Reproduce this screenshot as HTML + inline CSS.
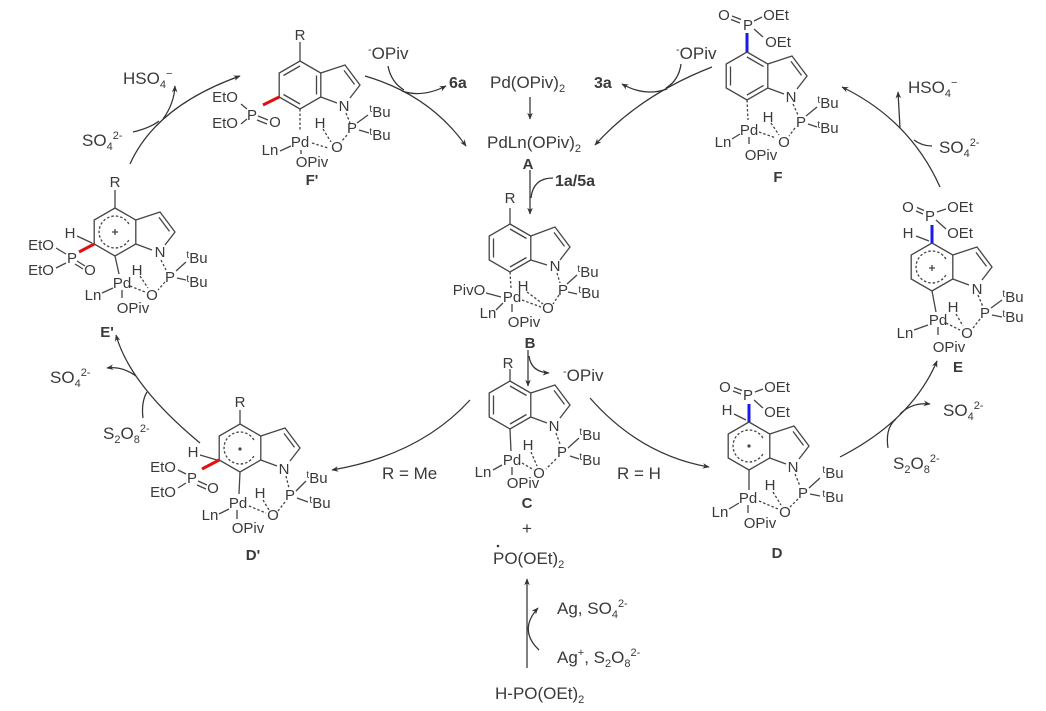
<!DOCTYPE html>
<html><head><meta charset="utf-8">
<style>
html,body{margin:0;padding:0;background:#fff;}
svg{display:block;}
.bd{stroke:#454545;stroke-width:1.3;fill:none;}
.ds{stroke:#454545;stroke-width:1.3;fill:none;stroke-dasharray:2.5 2;}
.ar{stroke:#333;stroke-width:1.25;fill:none;}
text{font-family:"Liberation Sans",Arial,sans-serif;fill:#3a3a3a;}
.a{font-size:15px;text-anchor:middle;}
.r{font-size:17px;}
.l{font-size:15px;font-weight:bold;text-anchor:middle;}
.lb{font-size:16px;font-weight:bold;}
.s{font-size:11px;}
.red{stroke:#e01010;stroke-width:3;fill:none;}
.blu{stroke:#1a1aee;stroke-width:3;fill:none;}
</style></head>
<body>
<svg width="1046" height="711" viewBox="0 0 1046 711" xmlns="http://www.w3.org/2000/svg">
<defs>
<marker id="ah" viewBox="0 0 10 10" refX="9" refY="5" markerWidth="7" markerHeight="7" orient="auto" markerUnits="userSpaceOnUse">
<path d="M0,1 L10,5 L0,9 L3,5z" fill="#333"/>
</marker>
</defs>

<!-- ================= ARROWS ================= -->
<!-- E' -> F' -->
<path class="ar" d="M130,164 Q156,106 240,76" marker-end="url(#ah)"/>
<path class="ar" d="M163,119 Q174,104 175,86" marker-end="url(#ah)"/>
<path class="ar" d="M133,132 Q150,128 159,121"/>
<!-- F' -> A -->
<path class="ar" d="M365,76 Q430,95 466,146" marker-end="url(#ah)"/>
<path class="ar" d="M388,66 Q391,82 404,90"/>
<path class="ar" d="M402,91 Q422,98 446,86" marker-end="url(#ah)"/>
<!-- F -> A -->
<path class="ar" d="M712,67 Q640,95 595,145" marker-end="url(#ah)"/>
<path class="ar" d="M681,64 Q679,80 666,88"/>
<path class="ar" d="M667,89 Q645,97 622,84" marker-end="url(#ah)"/>
<!-- Pd(OPiv)2 -> A -->
<path class="ar" d="M530,97 L530,119" marker-end="url(#ah)"/>
<!-- A -> B -->
<path class="ar" d="M530,170 L530,214" marker-end="url(#ah)"/>
<path class="ar" d="M553,178 Q533,178 531,198"/>
<!-- B -> C -->
<path class="ar" d="M528,350 L528,386" marker-end="url(#ah)"/>
<path class="ar" d="M529,356 Q531,372 549,373" marker-end="url(#ah)"/>
<!-- C -> D' -->
<path class="ar" d="M470,400 Q420,455 332,470" marker-end="url(#ah)"/>
<!-- C -> D -->
<path class="ar" d="M590,398 Q640,455 709,467" marker-end="url(#ah)"/>
<!-- D -> E -->
<path class="ar" d="M840,457 Q912,420 937,361" marker-end="url(#ah)"/>
<path class="ar" d="M900,414 Q912,402 930,404" marker-end="url(#ah)"/>
<path class="ar" d="M888,448 Q885,428 896,419"/>
<!-- E -> F -->
<path class="ar" d="M940,187 Q910,120 842,87" marker-end="url(#ah)"/>
<path class="ar" d="M900,128 Q899,110 898,92" marker-end="url(#ah)"/>
<path class="ar" d="M932,146 Q922,146 914,140"/>
<!-- D' -> E' -->
<path class="ar" d="M200,443 Q130,385 116,335" marker-end="url(#ah)"/>
<path class="ar" d="M136,376 Q122,366 107,368" marker-end="url(#ah)"/>
<path class="ar" d="M143,418 Q141,402 147,392"/>
<!-- H-PO(OEt)2 -> radical -->
<path class="ar" d="M527,668 L527,579" marker-end="url(#ah)"/>
<path class="ar" d="M539,650 Q518,630 538,608" marker-end="url(#ah)"/>

<!-- ================= REAGENT TEXT ================= -->
<text class="r" x="123" y="84">HSO<tspan class="s" dy="4">4</tspan><tspan class="s" dy="-11">−</tspan></text>
<text class="r" x="82" y="146">SO<tspan class="s" dy="4">4</tspan><tspan class="s" dy="-11">2-</tspan></text>
<text class="r" x="368" y="59"><tspan class="s" dy="-6">-</tspan><tspan dy="6">OPiv</tspan></text>
<text class="lb" x="449" y="88">6a</text>
<text class="r" x="490" y="88">Pd(OPiv)<tspan class="s" dy="4">2</tspan></text>
<text class="lb" x="594" y="88">3a</text>
<text class="r" x="676" y="59"><tspan class="s" dy="-6">-</tspan><tspan dy="6">OPiv</tspan></text>
<text class="r" x="487" y="148">PdLn(OPiv)<tspan class="s" dy="4">2</tspan></text>
<text class="l" x="528" y="169">A</text>
<text class="lb" x="555" y="186">1a/5a</text>
<text class="r" x="908" y="93">HSO<tspan class="s" dy="4">4</tspan><tspan class="s" dy="-11">−</tspan></text>
<text class="r" x="939" y="153">SO<tspan class="s" dy="4">4</tspan><tspan class="s" dy="-11">2-</tspan></text>
<text class="r" x="563" y="381"><tspan class="s" dy="-6">-</tspan><tspan dy="6">OPiv</tspan></text>
<text class="r" x="50" y="383">SO<tspan class="s" dy="4">4</tspan><tspan class="s" dy="-11">2-</tspan></text>
<text class="r" x="103" y="439">S<tspan class="s" dy="4">2</tspan><tspan dy="-4">O</tspan><tspan class="s" dy="4">8</tspan><tspan class="s" dy="-11">2-</tspan></text>
<text class="r" x="382" y="479">R = Me</text>
<text class="r" x="617" y="479">R = H</text>
<text class="r" x="943" y="416">SO<tspan class="s" dy="4">4</tspan><tspan class="s" dy="-11">2-</tspan></text>
<text class="r" x="893" y="469">S<tspan class="s" dy="4">2</tspan><tspan dy="-4">O</tspan><tspan class="s" dy="4">8</tspan><tspan class="s" dy="-11">2-</tspan></text>
<text class="r" x="527" y="534" text-anchor="middle">+</text>
<circle cx="498" cy="546" r="1.3" fill="#3a3a3a"/>
<text class="r" x="493" y="564">PO(OEt)<tspan class="s" dy="4">2</tspan></text>
<text class="r" x="557" y="614">Ag, SO<tspan class="s" dy="4">4</tspan><tspan class="s" dy="-11">2-</tspan></text>
<text class="r" x="557" y="663">Ag<tspan class="s" dy="-7">+</tspan><tspan dy="7">, S</tspan><tspan class="s" dy="4">2</tspan><tspan dy="-4">O</tspan><tspan class="s" dy="4">8</tspan><tspan class="s" dy="-11">2-</tspan></text>
<text class="r" x="495" y="699">H-PO(OEt)<tspan class="s" dy="4">2</tspan></text>

<!-- ================= F' ================= -->
<g transform="translate(300,85)">
<polygon class="bd" points="0,-24 20.8,-12 20.8,12 0,24 -20.8,12 -20.8,-12"/>
<path class="bd" d="M16.5,-9.5 L16.5,9.5 M0,19 L-16.5,9.5 M-16.5,-9.5 L0,-19"/>
<path class="bd" d="M20.8,-12 L45,-20 L60,0 L50,13 M20.8,12 L37,18 M44,-14.6 L54.5,-0.6"/>
<path class="bd" d="M0,-43 L0,-24"/>
<path class="red" d="M-20.8,12 L-37,20"/>
<path class="bd" d="M-59,19 L-53,24 M-59,39 L-53,34 M-42,31 L-32,35 M-43,35 L-33,39"/>
<path class="ds" d="M0,24 L0,46 M46,28 L50,38 M12,58 L28,63 M23,44 L31,57 M47,50 L41,57"/>
<path class="bd" d="M57,38 L68,30 M59,45 L69,48 M-20,66 L-9,61 M1,65 L1,69"/>
<text class="a" x="0" y="-45">R</text>
<text class="a" x="-48" y="35">P</text>
<text class="a" x="-75" y="17">EtO</text>
<text class="a" x="-75" y="43">EtO</text>
<text class="a" x="-25" y="42">O</text>
<text class="a" x="44" y="26">N</text>
<text class="a" x="52" y="48">P</text>
<text class="a" x="80" y="32"><tspan font-size="10" dy="-5">t</tspan><tspan dy="5">Bu</tspan></text>
<text class="a" x="80" y="55"><tspan font-size="10" dy="-5">t</tspan><tspan dy="5">Bu</tspan></text>
<text class="a" x="0" y="62">Pd</text>
<text class="a" x="20" y="43">H</text>
<text class="a" x="37" y="67">O</text>
<text class="a" x="-30" y="70">Ln</text>
<text class="a" x="12" y="82">OPiv</text>
<text class="l" x="12" y="100">F'</text>
</g>

<!-- ================= F ================= -->
<g transform="translate(747,76)">
<polygon class="bd" points="0,-24 20.8,-12 20.8,12 0,24 -20.8,12 -20.8,-12"/>
<path class="bd" d="M0,-19 L16.5,-9.5 M16.5,9.5 L0,19 M-16.5,9.5 L-16.5,-9.5"/>
<path class="bd" d="M20.8,-12 L45,-20 L60,0 L50,13 M20.8,12 L37,18 M44,-14.6 L54.5,-0.6"/>
<path class="blu" d="M0,-24 L0,-43"/>
<path class="bd" d="M-7,-53 L-16,-56.5 M-6,-56.5 L-15,-60 M7,-55 L15,-59 M7,-47 L16,-39"/>
<path class="ds" d="M0,24 L1,44 M46,28 L51,39 M12,56 L29,62 M24,47 L32,59 M48,52 L42,60"/>
<path class="bd" d="M59,40 L70,31 M61,48 L70,51 M-15,63 L-7,58 M2,61 L2,68"/>
<text class="a" x="1" y="-46">P</text>
<text class="a" x="-23" y="-56">O</text>
<text class="a" x="29" y="-56">OEt</text>
<text class="a" x="31" y="-29">OEt</text>
<text class="a" x="44" y="26">N</text>
<text class="a" x="54" y="51">P</text>
<text class="a" x="81" y="32"><tspan font-size="10" dy="-5">t</tspan><tspan dy="5">Bu</tspan></text>
<text class="a" x="81" y="57"><tspan font-size="10" dy="-5">t</tspan><tspan dy="5">Bu</tspan></text>
<text class="a" x="2" y="59">Pd</text>
<text class="a" x="21" y="46">H</text>
<text class="a" x="37" y="71">O</text>
<text class="a" x="-24" y="71">Ln</text>
<text class="a" x="14" y="84">OPiv</text>
<text class="l" x="31" y="106">F</text>
</g>

<!-- ================= B ================= -->
<g transform="translate(510,248)">
<polygon class="bd" points="0,-24 20.8,-12 20.8,12 0,24 -20.8,12 -20.8,-12"/>
<path class="bd" d="M0,-19 L16.5,-9.5 M16.5,9.5 L0,19 M-16.5,9.5 L-16.5,-9.5"/>
<path class="bd" d="M20.8,-12 L45,-21 L60,-1 L50,12 M20.8,12 L37,17 M44,-15.6 L54.5,-1.6"/>
<path class="bd" d="M0,-40 L0,-24"/>
<path class="ds" d="M0,24 L1,40 M47,25 L50,35 M12,52 L31,59 M17,44 L33,56 M49,47 L43,56"/>
<path class="bd" d="M57,36 L67,27 M58,44 L67,46 M-24,45 L-9,49 M-14,62 L-7,55 M2,56 L2,64"/>
<text class="a" x="0" y="-45">R</text>
<text class="a" x="45" y="23">N</text>
<text class="a" x="53" y="47">P</text>
<text class="a" x="78" y="29"><tspan font-size="10" dy="-5">t</tspan><tspan dy="5">Bu</tspan></text>
<text class="a" x="79" y="50"><tspan font-size="10" dy="-5">t</tspan><tspan dy="5">Bu</tspan></text>
<text class="a" x="2" y="54">Pd</text>
<text class="a" x="13" y="43">H</text>
<text class="a" x="38" y="65">O</text>
<text class="a" x="-41" y="47">PivO</text>
<text class="a" x="-22" y="70">Ln</text>
<text class="a" x="14" y="79">OPiv</text>
<text class="l" x="20" y="100">B</text>
</g>

<!-- ================= C ================= -->
<g transform="translate(510,405)">
<polygon class="bd" points="0,-24 20.8,-12 20.8,12 0,24 -20.8,12 -20.8,-12"/>
<path class="bd" d="M0,-19 L16.5,-9.5 M16.5,9.5 L0,19 M-16.5,9.5 L-16.5,-9.5"/>
<path class="bd" d="M20.8,-12 L45,-20 L60,0 L50,13 M20.8,12 L37,18 M44,-14.6 L54.5,-0.6"/>
<path class="bd" d="M0,-36 L0,-24 M0,24 L1,46"/>
<path class="ds" d="M46,28 L50,39 M12,58 L24,65 M21,47 L27,61 M46,54 L36,64"/>
<path class="bd" d="M58,43 L69,33 M60,51 L69,54 M-17,65 L-8,60 M2,62 L2,70"/>
<text class="a" x="-2" y="-37">R</text>
<text class="a" x="44" y="26">N</text>
<text class="a" x="52" y="52">P</text>
<text class="a" x="80" y="35"><tspan font-size="10" dy="-5">t</tspan><tspan dy="5">Bu</tspan></text>
<text class="a" x="80" y="60"><tspan font-size="10" dy="-5">t</tspan><tspan dy="5">Bu</tspan></text>
<text class="a" x="2" y="60">Pd</text>
<text class="a" x="18" y="45">H</text>
<text class="a" x="29" y="73">O</text>
<text class="a" x="-27" y="72">Ln</text>
<text class="a" x="13" y="83">OPiv</text>
<text class="l" x="17" y="103">C</text>
</g>

<!-- ================= D ================= -->
<g transform="translate(749,446)">
<polygon class="bd" points="0,-24 20.8,-12 20.8,12 0,24 -20.8,12 -20.8,-12"/>
<path class="ds" d="M13.9,-8 A16,16 0 1 0 13.9,8"/>
<circle cx="0" cy="0" r="1.6" fill="#444"/>
<path class="bd" d="M20.8,-12 L45,-20 L60,0 L50,13 M20.8,12 L37,18 M44,-14.6 L54.5,-0.6"/>
<path class="blu" d="M0,-24 L0,-42"/>
<path class="bd" d="M-15,-32 L-3,-26 M-8,-52 L-16,-55 M-7,-55.5 L-15,-58.5 M6,-54 L14,-57 M5,-46 L14,-38 M0,24 L0,44"/>
<path class="ds" d="M46,28 L51,40 M10,55 L29,63 M24,46 L32,59 M49,53 L41,61"/>
<path class="bd" d="M60,42 L71,32 M61,48 L71,50 M-20,63 L-10,57 M-1,59 L-1,67"/>
<text class="a" x="-1" y="-46">P</text>
<text class="a" x="-24" y="-54">O</text>
<text class="a" x="28" y="-54">OEt</text>
<text class="a" x="28" y="-29">OEt</text>
<text class="a" x="-22" y="-31">H</text>
<text class="a" x="44" y="26">N</text>
<text class="a" x="54" y="52">P</text>
<text class="a" x="84" y="32"><tspan font-size="10" dy="-5">t</tspan><tspan dy="5">Bu</tspan></text>
<text class="a" x="84" y="56"><tspan font-size="10" dy="-5">t</tspan><tspan dy="5">Bu</tspan></text>
<text class="a" x="-1" y="57">Pd</text>
<text class="a" x="21" y="44">H</text>
<text class="a" x="36" y="71">O</text>
<text class="a" x="-29" y="71">Ln</text>
<text class="a" x="11" y="82">OPiv</text>
<text class="l" x="28" y="112">D</text>
</g>

<!-- ================= E ================= -->
<g transform="translate(932,267)">
<polygon class="bd" points="0,-24 20.8,-12 20.8,12 0,24 -20.8,12 -20.8,-12"/>
<path class="ds" d="M13.9,-8 A16,16 0 1 0 13.9,8"/>
<path class="bd" d="M-3,1 L3,1 M0,-2 L0,4" stroke-width="1"/>
<path class="bd" d="M20.8,-12 L45,-20 L60,0 L50,13 M20.8,12 L37,18 M44,-14.6 L54.5,-0.6"/>
<path class="blu" d="M0,-24 L0,-42"/>
<path class="bd" d="M-16,-31 L-3,-26 M-9,-53 L-16,-56 M-8,-56.5 L-15,-59.5 M5,-55 L14,-58 M4,-47 L14,-38 M0,24 L4,45"/>
<path class="ds" d="M46,28 L51,40 M14,56 L28,63 M24,47 L31,59 M48,52 L41,61"/>
<path class="bd" d="M59,41 L70,33 M60,48 L70,50 M-18,63 L-4,58 M6,60 L6,68"/>
<text class="a" x="-2" y="-46">P</text>
<text class="a" x="-24" y="-55">O</text>
<text class="a" x="28" y="-55">OEt</text>
<text class="a" x="28" y="-29">OEt</text>
<text class="a" x="-24" y="-29">H</text>
<text class="a" x="45" y="27">N</text>
<text class="a" x="53" y="51">P</text>
<text class="a" x="81" y="35"><tspan font-size="10" dy="-5">t</tspan><tspan dy="5">Bu</tspan></text>
<text class="a" x="81" y="55"><tspan font-size="10" dy="-5">t</tspan><tspan dy="5">Bu</tspan></text>
<text class="a" x="6" y="58">Pd</text>
<text class="a" x="21" y="45">H</text>
<text class="a" x="35" y="71">O</text>
<text class="a" x="-27" y="71">Ln</text>
<text class="a" x="17" y="85">OPiv</text>
<text class="l" x="26" y="105">E</text>
</g>

<!-- ================= D' ================= -->
<g transform="translate(240,448)">
<polygon class="bd" points="0,-24 20.8,-12 20.8,12 0,24 -20.8,12 -20.8,-12"/>
<path class="ds" d="M13.9,-8 A16,16 0 1 0 13.9,8"/>
<circle cx="0" cy="1" r="1.6" fill="#444"/>
<path class="bd" d="M20.8,-12 L45,-20 L60,0 L50,13 M20.8,12 L37,18 M44,-14.6 L54.5,-0.6"/>
<path class="bd" d="M0,-38 L0,-24 M-40,7 L-23,12"/>
<path class="red" d="M-20.8,12 L-38,21"/>
<path class="bd" d="M-62,22 L-54,26 M-62,40 L-54,35 M-42,33 L-33,37 M-43,37 L-34,41 M0,24 L-1,46"/>
<path class="ds" d="M46,28 L49,40 M9,58 L26,65 M23,52 L29,62 M45,54 L38,63"/>
<path class="bd" d="M56,43 L66,33 M57,50 L68,54 M-21,66 L-11,61 M-3,62 L-3,71"/>
<text class="a" x="0" y="-41">R</text>
<text class="a" x="-47" y="9">H</text>
<text class="a" x="-48" y="35">P</text>
<text class="a" x="-77" y="24">EtO</text>
<text class="a" x="-77" y="49">EtO</text>
<text class="a" x="-27" y="45">O</text>
<text class="a" x="44" y="26">N</text>
<text class="a" x="50" y="52">P</text>
<text class="a" x="77" y="35"><tspan font-size="10" dy="-5">t</tspan><tspan dy="5">Bu</tspan></text>
<text class="a" x="80" y="60"><tspan font-size="10" dy="-5">t</tspan><tspan dy="5">Bu</tspan></text>
<text class="a" x="-2" y="60">Pd</text>
<text class="a" x="20" y="50">H</text>
<text class="a" x="33" y="72">O</text>
<text class="a" x="-30" y="72">Ln</text>
<text class="a" x="8" y="85">OPiv</text>
<text class="l" x="13" y="112">D'</text>
</g>

<!-- ================= E' ================= -->
<g transform="translate(115,232)">
<polygon class="bd" points="0,-24 20.8,-12 20.8,12 0,24 -20.8,12 -20.8,-12"/>
<path class="ds" d="M13.9,-8 A16,16 0 1 0 13.9,8"/>
<path class="bd" d="M-3,0 L3,0 M0,-3 L0,3" stroke-width="1"/>
<path class="bd" d="M20.8,-12 L45,-20 L60,0 L50,13 M20.8,12 L37,18 M44,-14.6 L54.5,-0.6"/>
<path class="bd" d="M0,-42 L0,-24 M-38,4 L-23,11"/>
<path class="red" d="M-20.8,12 L-36,20"/>
<path class="bd" d="M-59,16 L-49,22 M-59,36 L-49,31 M-38,29 L-30,34 M-40,32 L-32,37 M0,24 L4,42"/>
<path class="ds" d="M46,28 L51,38 M15,54 L30,60 M25,44 L33,56 M50,50 L43,58"/>
<path class="bd" d="M61,39 L71,30 M62,46 L71,48 M-13,61 L-2,56 M7,58 L7,66"/>
<text class="a" x="0" y="-45">R</text>
<text class="a" x="-45" y="6">H</text>
<text class="a" x="-43" y="31">P</text>
<text class="a" x="-74" y="18">EtO</text>
<text class="a" x="-74" y="43">EtO</text>
<text class="a" x="-25" y="43">O</text>
<text class="a" x="45" y="25">N</text>
<text class="a" x="55" y="50">P</text>
<text class="a" x="82" y="31"><tspan font-size="10" dy="-5">t</tspan><tspan dy="5">Bu</tspan></text>
<text class="a" x="82" y="55"><tspan font-size="10" dy="-5">t</tspan><tspan dy="5">Bu</tspan></text>
<text class="a" x="7" y="56">Pd</text>
<text class="a" x="22" y="43">H</text>
<text class="a" x="37" y="68">O</text>
<text class="a" x="-22" y="68">Ln</text>
<text class="a" x="18" y="81">OPiv</text>
<text class="l" x="-8" y="105">E'</text>
</g>

</svg>
</body></html>
